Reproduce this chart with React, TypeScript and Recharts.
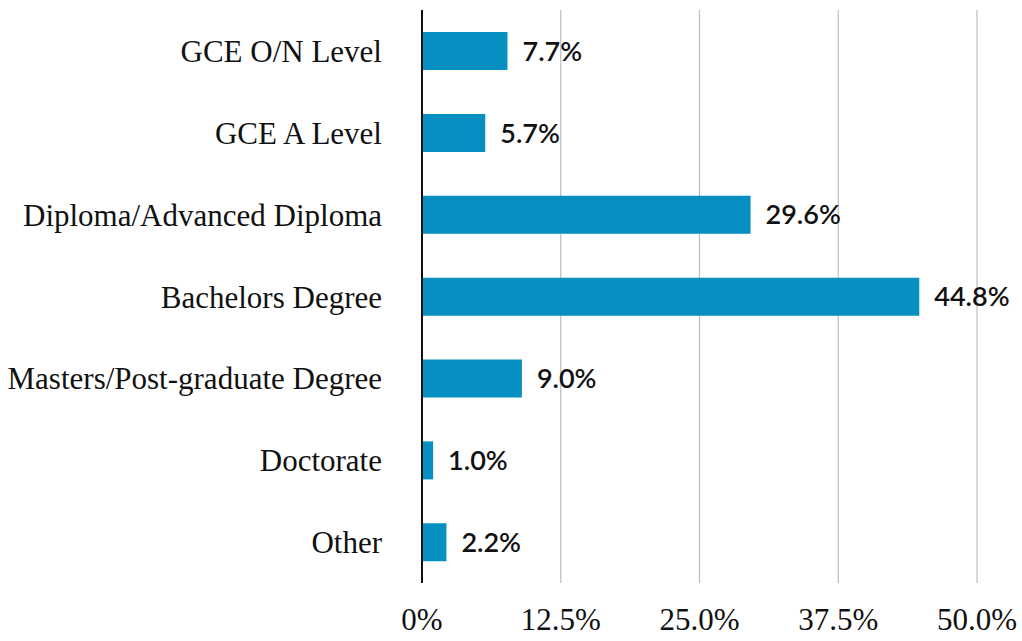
import { BarChart, Bar, XAxis, YAxis, CartesianGrid, LabelList } from 'recharts';

const categories = [
  'GCE O/N Level',
  'GCE A Level',
  'Diploma/Advanced Diploma',
  'Bachelors Degree',
  'Masters/Post-graduate Degree',
  'Doctorate',
  'Other',
];
const shares = [7.7, 5.7, 29.6, 44.8, 9.0, 1.0, 2.2];
const xTicks = [0, 12.5, 25, 37.5, 50];

const data = categories.map((name, i) => ({ name, share: shares[i] }));

const BAR_COLOR = '#0590c1';

function formatTick(v: number): string {
  return v === 0 ? '0%' : `${v.toFixed(1)}%`;
}

export default function App() {
  return (
    <div style={{ position: 'absolute', left: 0, top: 0, width: 1022, height: 641, background: '#fff' }}>
      <BarChart
        width={1022}
        height={641}
        data={data}
        layout="vertical"
        margin={{ top: 10, right: 45, left: 0, bottom: 0 }}
        barCategoryGap="27%"
      >
        <CartesianGrid horizontal={false} stroke="#bdbdbd" strokeWidth={1.2} />
        <XAxis
          type="number"
          domain={[0, 50]}
          ticks={xTicks}
          tickFormatter={formatTick}
          axisLine={false}
          tickLine={false}
          tickSize={0}
          tickMargin={25}
          height={58}
          tick={{ fontFamily: '"Liberation Serif", serif', fontSize: 31, fill: '#111' }}
        />
        <YAxis
          type="category"
          dataKey="name"
          width={422}
          axisLine={{ stroke: '#111', strokeWidth: 2 }}
          tickLine={false}
          tickSize={0}
          tickMargin={40}
          tick={{ fontFamily: '"Liberation Serif", serif', fontSize: 31, fill: '#111' }}
        />
        <Bar dataKey="share" fill={BAR_COLOR} isAnimationActive={false}>
          <LabelList
            dataKey="share"
            position="right"
            offset={15}
            formatter={(v: number) => `${v.toFixed(1)}%`}
            style={{ fontFamily: 'Lato, sans-serif', fontSize: 27, fontWeight: 600, fill: '#111' }}
          />
        </Bar>
      </BarChart>
    </div>
  );
}
